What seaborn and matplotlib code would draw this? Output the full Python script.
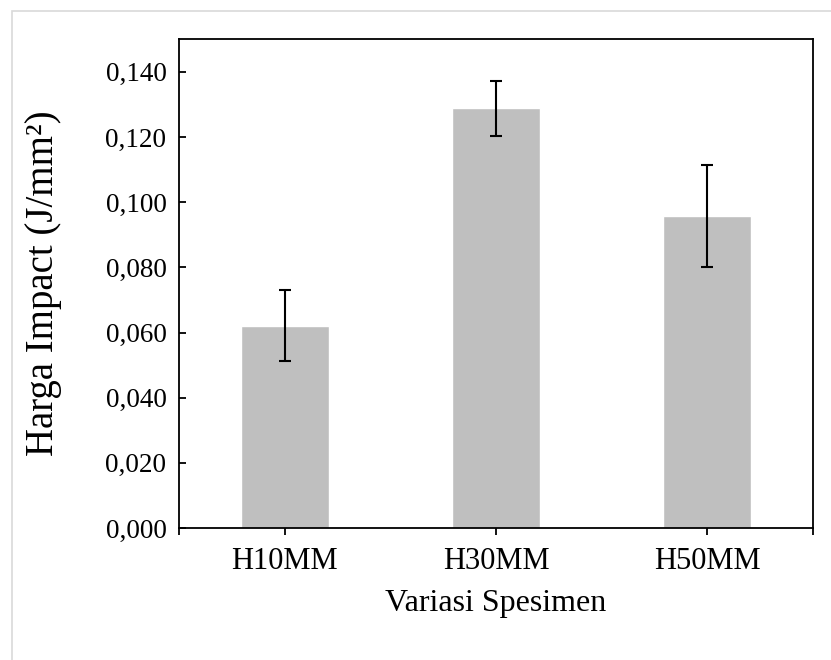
import matplotlib
matplotlib.use("Agg")
import matplotlib.pyplot as plt
import seaborn as sns
import pandas as pd
import numpy as np
from matplotlib.ticker import FuncFormatter, FixedLocator
from matplotlib.patches import Rectangle

categories = ["H10MM", "H30MM", "H50MM"]
values = [0.0621, 0.1288, 0.0958]
errors = [0.0108, 0.0084, 0.0157]
yticks = [0.000, 0.020, 0.040, 0.060, 0.080, 0.100, 0.120, 0.140]

sns.set_theme(style="white")
plt.rcParams['font.family'] = ['Liberation Serif', 'DejaVu Serif']

W, H = 831, 660
fig = plt.figure(figsize=(W / 100, H / 100), dpi=100)
ax = fig.add_axes([179 / W, 1 - 528 / H, (813 - 179) / W, (528 - 39.3) / H])

df = pd.DataFrame({"cat": categories, "val": values})
sns.barplot(data=df, x="cat", y="val", color="#bfbfbf", saturation=1,
            width=0.416, errorbar=None, ax=ax)
ax.errorbar(np.arange(len(categories)), values, yerr=errors, fmt="none",
            ecolor="black", elinewidth=1.5, capsize=4.5, capthick=1.5)

ax.set_xlim(-0.5, 2.5)
ax.set_ylim(0, 0.150)
ax.yaxis.set_major_locator(FixedLocator(yticks))
ax.yaxis.set_major_formatter(FuncFormatter(lambda v, p: f"{v:.3f}".replace(".", ",")))
ax.set_xticks(range(len(categories)))
ax.set_xticklabels(categories)
ax.set_xticks([-0.5, 2.5], minor=True)

for s in ax.spines.values():
    s.set_visible(True)
    s.set_color("black")
    s.set_linewidth(1.3)

ax.tick_params(axis="y", which="major", direction="in", length=5, width=1.3,
               color="black", left=True, labelsize=19.5, pad=9, labelcolor="black")
ax.tick_params(axis="x", which="both", direction="out", length=5, width=1.3,
               color="black", bottom=True, labelsize=22, pad=9, labelcolor="black")

ax.set_xlabel("Variasi Spesimen", fontsize=23, labelpad=9, color="black")
ax.set_ylabel("Harga Impact (J/mm²)", fontsize=28, labelpad=31, color="black")

fig.patches.append(Rectangle((12 / W, -0.05), 1.1, 1 - 11 / H + 0.05,
                             transform=fig.transFigure, fill=False,
                             edgecolor="#d9d9d9", linewidth=1.2, zorder=0))

fig.savefig("out.png", dpi=100)
